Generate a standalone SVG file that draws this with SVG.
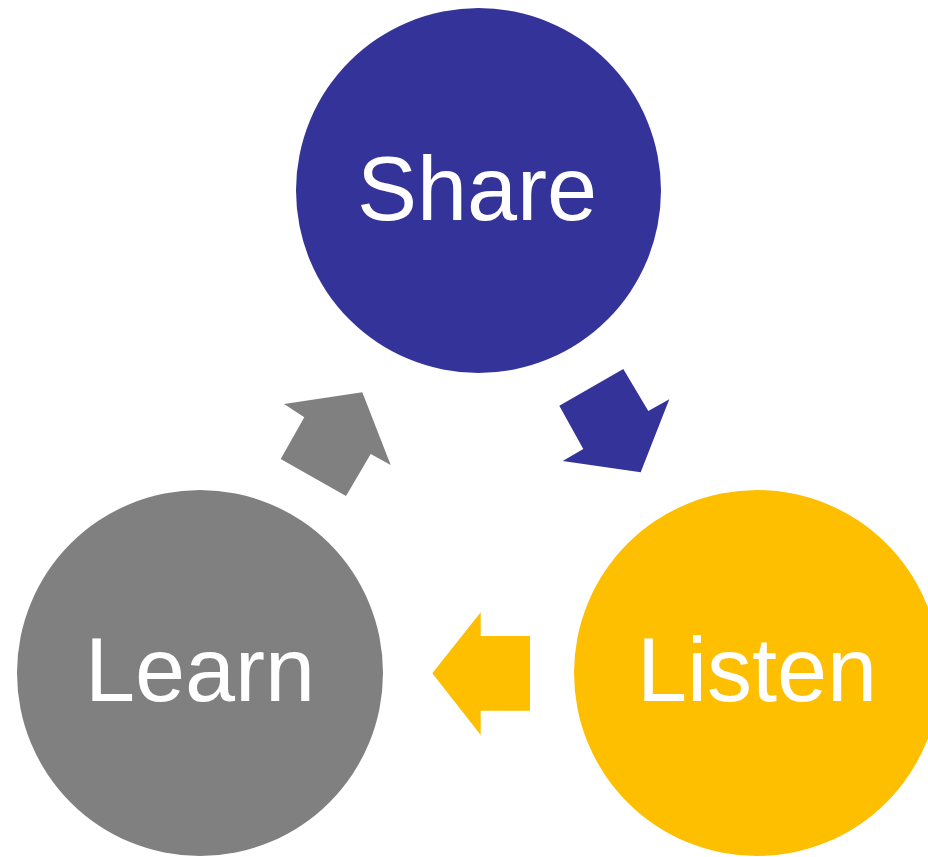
<svg xmlns="http://www.w3.org/2000/svg" width="928" height="857" viewBox="0 0 928 857">
<style>
.lbl{font-family:"Liberation Sans",Arial,sans-serif;font-size:90px;fill:#FFFFFF;text-anchor:middle}
</style>
<rect width="928" height="857" fill="#FFFFFF"/>
<g id="connectors">
<polygon fill="#343399" points="623.3,369 648.3,411 669.3,399.3 640.7,472.3 562.7,461 583.3,449 559.3,405.7"/>
<polygon fill="#808080" points="284,404 362.3,392.3 390.7,465 370.7,454 346,496 280.7,459 304.3,417.3"/>
<polygon fill="#FDBF00" points="432.3,673.3 480.7,612.3 480.7,636 530,636 530,710.7 480.7,710.7 480.7,735"/>
</g>
<g id="share">
<circle cx="478.5" cy="190.5" r="182.5" fill="#343399"/>
<text class="lbl" x="477" y="220">Share</text>
</g>
<g id="learn">
<circle cx="200" cy="673" r="183" fill="#808080"/>
<text class="lbl" x="200" y="701">Learn</text>
</g>
<g id="listen">
<circle cx="757" cy="673" r="183" fill="#FDBF00"/>
<text class="lbl" x="757" y="701">Listen</text>
</g>
</svg>
